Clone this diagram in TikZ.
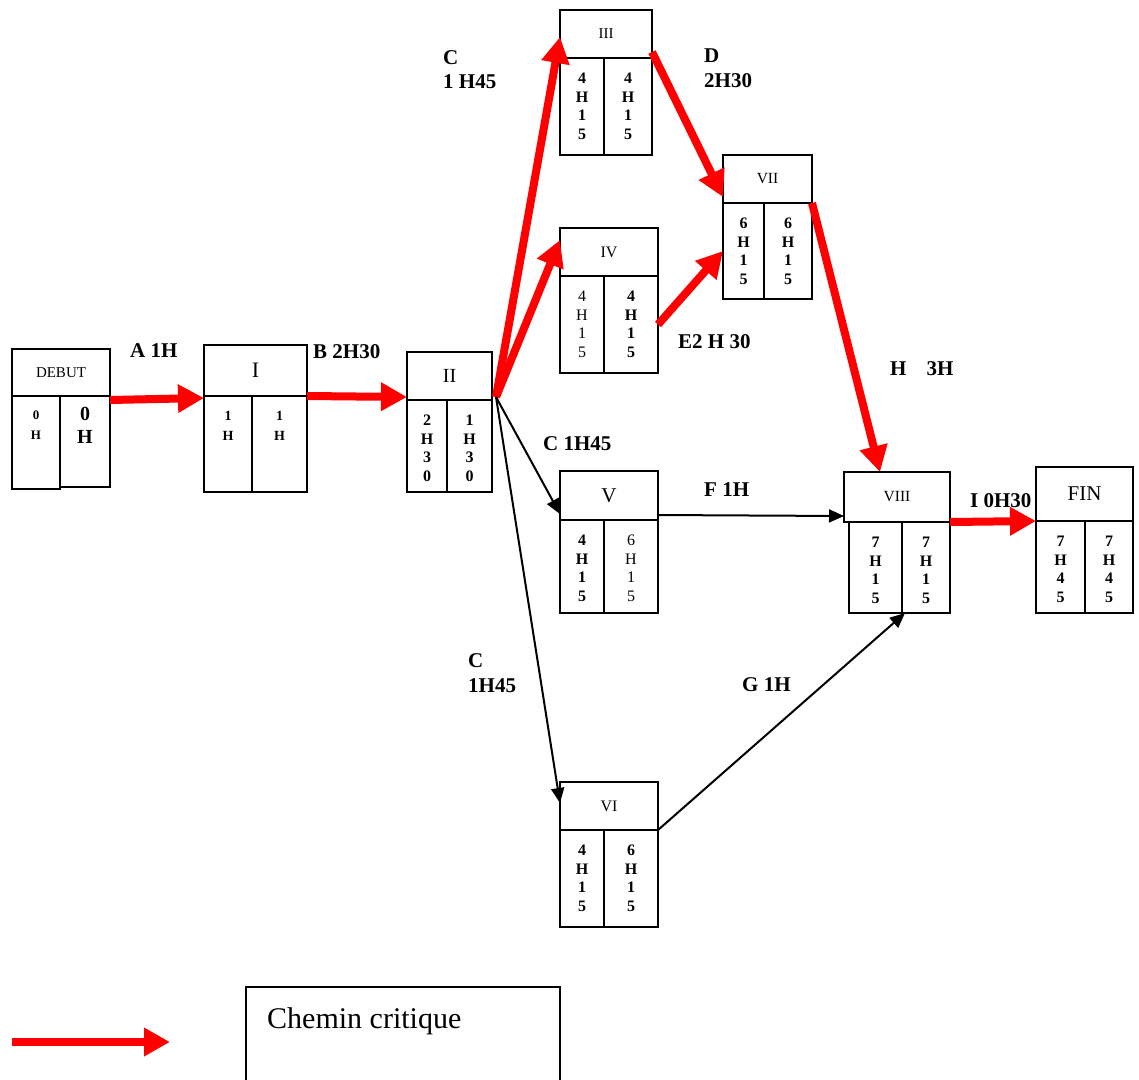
\documentclass[tikz,border=0pt]{standalone}
\usepackage{fontspec}
\setmainfont{Liberation Serif}
\usetikzlibrary{arrows.meta}
\tikzstyle{tete}=[draw, line width=1.8pt, anchor=north west, inner sep=0pt, outer sep=0pt]
\tikzstyle{case}=[draw, line width=1.8pt, anchor=north west, inner sep=0pt, outer sep=0pt]
\tikzstyle{chiffres}=[anchor=north, inner sep=0pt, align=center, font=\fontsize{16}{18.5}\selectfont\bfseries]
\tikzstyle{maigre}=[font=\fontsize{16}{18.5}\selectfont]
\tikzstyle{duree}=[anchor=base west, inner sep=0pt, align=left, font=\fontsize{21}{24}\selectfont\bfseries]
\tikzstyle{critique}=[red, line width=8pt, -{Triangle[length=26pt, width=27pt]}]
\tikzstyle{normal}=[black, line width=2pt, -{Triangle[length=15pt, width=13pt]}]

\begin{document}
\begin{tikzpicture}[x=1pt, y=-1pt]
\path[clip] (0,0) rectangle (1139,1079);
\useasboundingbox (0,0) rectangle (1139,1079);

% DEBUT
\node[tete, minimum width=98pt, minimum height=47pt, font=\fontsize{15}{17}\selectfont] (DEBUT) at (12,349) {DEBUT};
\node[case, minimum width=48pt, minimum height=93pt] (DEBUT-g) at (DEBUT.south west) {};
\node[case, minimum width=50pt, minimum height=91pt] (DEBUT-d) at (DEBUT-g.north east) {};
\node[chiffres, font=\fontsize{13}{20}\selectfont\bfseries] (DEBUT-gt) at ([yshift=-15pt]DEBUT-g.north) {0\\H};
\node[chiffres, font=\fontsize{20}{23}\selectfont\bfseries] (DEBUT-dt) at ([yshift=-11pt]DEBUT-d.north) {0\\H};

% I
\node[tete, minimum width=103pt, minimum height=51pt, font=\fontsize{22}{24}\selectfont] (I) at (204,345) {I};
\node[case, minimum width=48pt, minimum height=96pt] (I-g) at (I.south west) {};
\node[case, minimum width=55pt, minimum height=96pt] (I-d) at (I-g.north east) {};
\node[chiffres, font=\fontsize{14}{20}\selectfont\bfseries] (I-gt) at ([yshift=-15pt]I-g.north) {1\\H};
\node[chiffres, font=\fontsize{14}{20}\selectfont\bfseries] (I-dt) at ([yshift=-15pt]I-d.north) {1\\H};

% II
\node[tete, minimum width=85pt, minimum height=48pt, font=\fontsize{20}{22}\selectfont] (II) at (407,352) {II};
\node[case, minimum width=40pt, minimum height=92pt] (II-g) at (II.south west) {};
\node[case, minimum width=45pt, minimum height=92pt] (II-d) at (II-g.north east) {};
\node[chiffres] (II-gt) at ([yshift=-15pt]II-g.north) {2\\H\\3\\0};
\node[chiffres] (II-dt) at ([yshift=-15pt]II-d.north) {1\\H\\3\\0};

% III
\node[tete, minimum width=92pt, minimum height=48pt, font=\fontsize{15}{17}\selectfont] (III) at (560,10) {III};
\node[case, minimum width=44pt, minimum height=97pt] (III-g) at (III.south west) {};
\node[case, minimum width=48pt, minimum height=97pt] (III-d) at (III-g.north east) {};
\node[chiffres] (III-gt) at ([yshift=-15pt]III-g.north) {4\\H\\1\\5};
\node[chiffres] (III-dt) at ([yshift=-15pt]III-d.north) {4\\H\\1\\5};

% IV
\node[tete, minimum width=98pt, minimum height=48pt, font=\fontsize{16}{18}\selectfont] (IV) at (560,228) {IV};
\node[case, minimum width=44pt, minimum height=97pt] (IV-g) at (IV.south west) {};
\node[case, minimum width=54pt, minimum height=97pt] (IV-d) at (IV-g.north east) {};
\node[chiffres, maigre] (IV-gt) at ([yshift=-15pt]IV-g.north) {4\\H\\1\\5};
\node[chiffres] (IV-dt) at ([yshift=-15pt]IV-d.north) {4\\H\\1\\5};

% VII
\node[tete, minimum width=89pt, minimum height=48pt, font=\fontsize{15.5}{17}\selectfont] (VII) at (723,155) {VII};
\node[case, minimum width=41pt, minimum height=96pt] (VII-g) at (VII.south west) {};
\node[case, minimum width=48pt, minimum height=96pt] (VII-d) at (VII-g.north east) {};
\node[chiffres] (VII-gt) at ([yshift=-15pt]VII-g.north) {6\\H\\1\\5};
\node[chiffres] (VII-dt) at ([yshift=-15pt]VII-d.north) {6\\H\\1\\5};

% V
\node[tete, minimum width=98pt, minimum height=49pt, font=\fontsize{21}{23}\selectfont] (V) at (560,471) {V};
\node[case, minimum width=44pt, minimum height=93pt] (V-g) at (V.south west) {};
\node[case, minimum width=54pt, minimum height=93pt] (V-d) at (V-g.north east) {};
\node[chiffres] (V-gt) at ([yshift=-15pt]V-g.north) {4\\H\\1\\5};
\node[chiffres, maigre] (V-dt) at ([yshift=-15pt]V-d.north) {6\\H\\1\\5};

% VI
\node[tete, minimum width=98pt, minimum height=48pt, font=\fontsize{16}{18}\selectfont] (VI) at (560,782) {VI};
\node[case, minimum width=44pt, minimum height=97pt] (VI-g) at (VI.south west) {};
\node[case, minimum width=54pt, minimum height=97pt] (VI-d) at (VI-g.north east) {};
\node[chiffres] (VI-gt) at ([yshift=-15pt]VI-g.north) {4\\H\\1\\5};
\node[chiffres] (VI-dt) at ([yshift=-15pt]VI-d.north) {6\\H\\1\\5};

% VIII
\node[tete, minimum width=106pt, minimum height=50pt, font=\fontsize{15.5}{17}\selectfont] (VIII) at (844,472) {VIII};
\node[case, minimum width=53pt, minimum height=91pt] (VIII-g) at ([xshift=5pt]VIII.south west) {};
\node[case, minimum width=48pt, minimum height=91pt] (VIII-d) at (VIII-g.north east) {};
\node[chiffres] (VIII-gt) at ([yshift=-15pt]VIII-g.north) {7\\H\\1\\5};
\node[chiffres] (VIII-dt) at ([yshift=-15pt]VIII-d.north) {7\\H\\1\\5};

% FIN
\node[tete, minimum width=97pt, minimum height=54pt, font=\fontsize{21}{23}\selectfont] (FIN) at (1036,467) {FIN};
\node[case, minimum width=49pt, minimum height=92pt] (FIN-g) at (FIN.south west) {};
\node[case, minimum width=48pt, minimum height=92pt] (FIN-d) at (FIN-g.north east) {};
\node[chiffres] (FIN-gt) at ([yshift=-15pt]FIN-g.north) {7\\H\\4\\5};
\node[chiffres] (FIN-dt) at ([yshift=-15pt]FIN-d.north) {7\\H\\4\\5};

% depart commun des taches C
\coordinate (II-s) at ([xshift=4pt, yshift=3pt]II.south east);

% chemin critique
\draw[critique] ([yshift=-4pt]DEBUT.south east) -- ([yshift=-2pt]I.south west);
\draw[critique] (I.south east) -- ([yshift=3pt]II.south west);
\draw[critique] (II-s) -- ([yshift=-3pt]III.west);
\draw[critique] (II-s) -- ([yshift=-12pt]IV.north west);
\draw[critique] ([yshift=6pt]III.south east) -- ([yshift=6pt]VII.south west);
\draw[critique] (IV-d.east) -- (VII-g.west);
\draw[critique] (VII.south east) -- ([xshift=-17pt]VIII.north);
\draw[critique] (VIII.south east) -- (FIN.south west);

% autres taches
\draw[normal] (II-s) -- ([yshift=6pt]V.south west);
\draw[normal] (II-s) -- ([yshift=3pt]VI.west);
\draw[normal] ([yshift=5pt]V.south east) -- ([yshift=6pt]VIII.south west);
\draw[normal] (VI.south east) -- ([xshift=3pt]VIII-d.south west);

% durees
\node[duree] (lA) at (130,357) {A 1H};
\node[duree] (lB) at (313,358) {B 2H30};
\node[duree, anchor=north west] (lC1) at (443,50) {C\\1 H45};
\node[duree, anchor=north west, font=\fontsize{21}{25}\selectfont\bfseries] (lD) at (704,49) {D\\2H30};
\node[duree] (lE) at (678,348) {E2 H 30};
\node[duree] (lH) at (890,375) {H\hspace{20pt}3H};
\node[duree] (lC2) at (543,450) {C 1H45};
\node[duree] (lF) at (704,496) {F 1H};
\node[duree] (lI) at (970,507) {I 0H30};
\node[duree, anchor=north west, font=\fontsize{21}{25}\selectfont\bfseries] (lC3) at (468,653) {C\\1H45};
\node[duree] (lG) at (742,691) {G 1H};

% legende
\coordinate (leg-a) at (12,1042);
\coordinate (leg-b) at (170,1042);
\draw[critique] (leg-a) -- (leg-b);
\node[case, minimum width=314pt, minimum height=130pt] (leg) at (246,987) {};
\node[anchor=base west, inner sep=0pt, font=\fontsize{30}{32}\selectfont] (leg-txt) at (267,1028) {Chemin critique};
\end{tikzpicture}
\end{document}
